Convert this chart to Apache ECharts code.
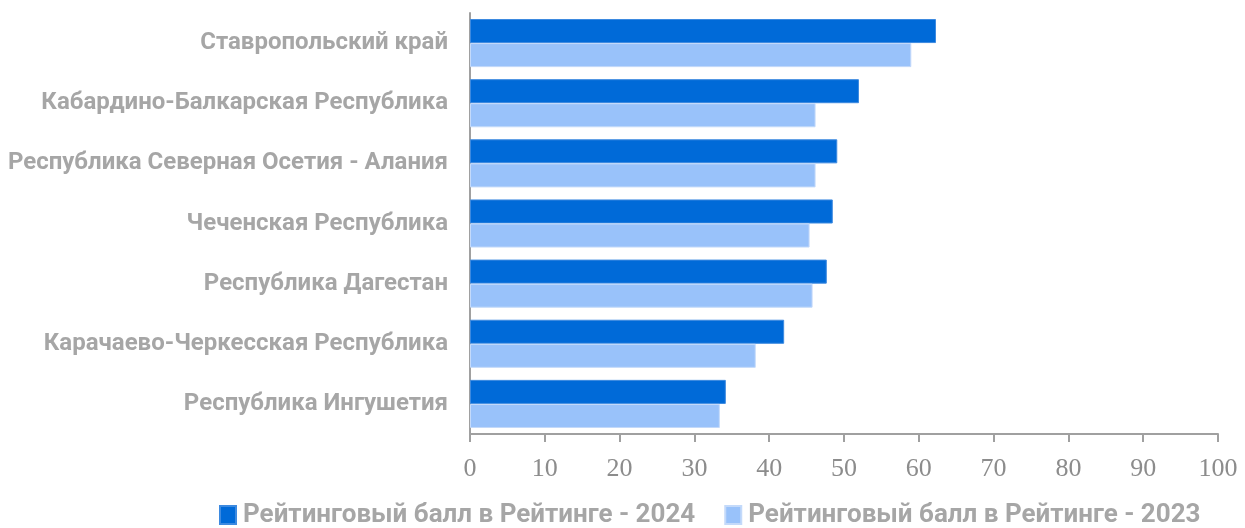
<!DOCTYPE html>
<html>
<head>
<meta charset="utf-8">
<script src="https://cdn.jsdelivr.net/npm/echarts@6/dist/echarts.min.js"></script>
<style>
  html, body { margin: 0; padding: 0; background: #fff; }
  #chart { width: 1245px; height: 528px; }
</style>
</head>
<body>
<div id="chart"></div>
<script>
// регионы (сверху вниз)
const regions = [
  'Ставропольский край',
  'Кабардино-Балкарская Республика',
  'Республика Северная Осетия - Алания',
  'Чеченская Республика',
  'Республика Дагестан',
  'Карачаево-Черкесская Республика',
  'Республика Ингушетия'
]
const score2024 = [62.3, 52.0, 49.1, 48.5, 47.7, 42.0, 34.2]
const score2023 = [59.0, 46.2, 46.2, 45.4, 45.8, 38.2, 33.4]
const seriesNames = ['Рейтинговый балл в Рейтинге - 2024', 'Рейтинговый балл в Рейтинге - 2023']

const chart = echarts.init(document.getElementById('chart'))

const labelGrey = '#a6a6a6'
const axisGrey = '#a0a0a0'

chart.setOption({
  animation: false,
  grid: { left: 470, right: 27, top: 13, bottom: 94 },
  legend: {
    left: 219,
    bottom: 0,
    padding: 0,
    itemWidth: 16,
    itemHeight: 18,
    itemGap: 29,
    icon: 'rect',
    textStyle: { color: labelGrey, fontFamily: 'Roboto', fontWeight: 'bold', fontSize: 26, padding: [0, 0, 0, 2] },
    data: seriesNames
  },
  xAxis: {
    type: 'value',
    min: 0,
    max: 100,
    interval: 10,
    axisLine: { show: true, lineStyle: { color: axisGrey, width: 2 } },
    axisTick: { show: true, length: 8, lineStyle: { color: axisGrey, width: 2 } },
    splitLine: { show: false },
    axisLabel: { color: '#8c8c8c', fontFamily: 'Liberation Serif', fontSize: 26, margin: 22 }
  },
  yAxis: {
    type: 'category',
    inverse: true,
    data: regions,
    axisLine: { show: true, lineStyle: { color: axisGrey, width: 2 } },
    axisTick: { show: false },
    axisLabel: { color: labelGrey, fontFamily: 'Roboto', fontWeight: 'bold', fontSize: 24, margin: 22 }
  },
  series: [
    {
      name: seriesNames[0],
      type: 'bar',
      data: score2024,
      barGap: '0%',
      barCategoryGap: '20%',
      itemStyle: { color: '#006ad8', borderColor: '#3d8ae0', borderWidth: 1 }
    },
    {
      name: seriesNames[1],
      type: 'bar',
      data: score2023,
      barGap: '0%',
      barCategoryGap: '20%',
      itemStyle: { color: '#99c2fa', borderColor: '#c4dafa', borderWidth: 1 }
    }
  ]
})
</script>
</body>
</html>
